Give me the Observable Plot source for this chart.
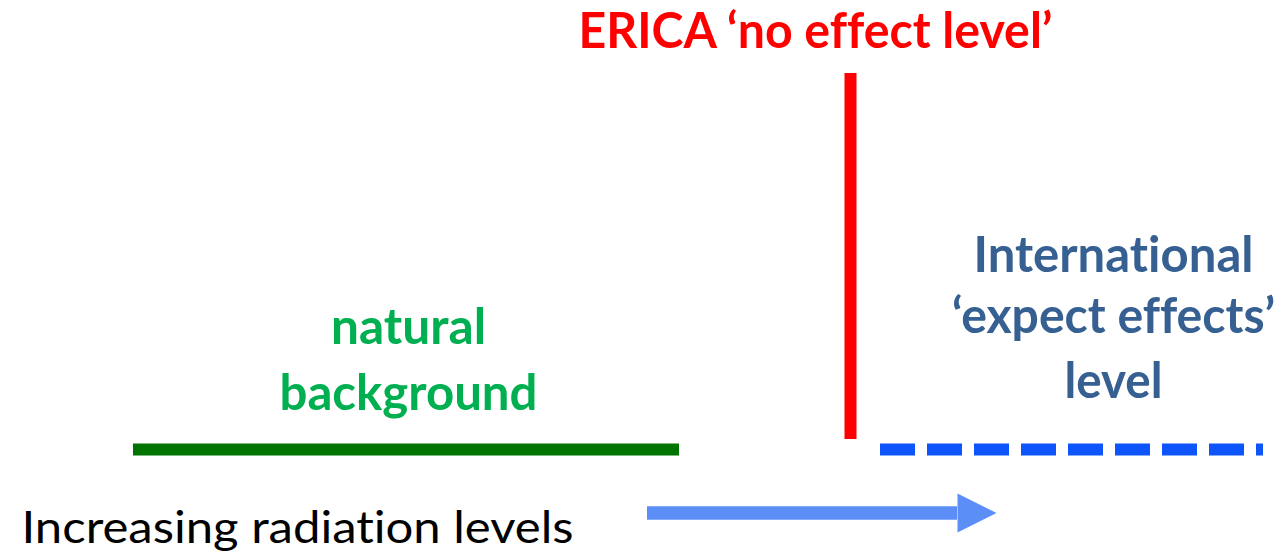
<!DOCTYPE html>
<html><head><meta charset="utf-8">
<script src="https://cdn.jsdelivr.net/npm/d3@7"></script>
<script src="https://cdn.jsdelivr.net/npm/@observablehq/plot@0.6"></script>
<style>html,body{margin:0;padding:0;background:#fff;overflow:hidden} svg text{font-variant-ligatures:none;font-feature-settings:"liga" 0}</style>
</head><body><div id="chart"></div>
<script>
// ---- data (x: relative radiation level, y: vertical position in the diagram) ----
const naturalBackground = [{x1: 133, x2: 679, y: 449}];
const ericaNoEffect = [{x: 850, y1: 73, y2: 439}];
const expectEffects = [{x1: 880, x2: 1263, y: 449}];
const increasingArrow = [{x1: 647, x2: 996, y: 512.5}];
const ericaLabel = [{text: "ERICA ‘no effect level’", x: 815, y: 47}];
const naturalLabel = [{text: "natural", x: 408, y: 343}, {text: "background", x: 408, y: 409}];
const expectLabel = [{text: "International", x: 1113, y: 271}, {text: "‘expect effects’", x: 1113, y: 332}, {text: "level", x: 1113, y: 397}];
const axisLabel = [{text: "Increasing radiation levels", x: 21, y: 542}];

// ---- styles ----
const W = 1288, H = 553;
const headLen = 39, headHalf = 19.5;
const textWidths = {
  "ERICA ‘no effect level’": 474, "natural": 155, "background": 258,
  "International": 280, "‘expect effects’": 323, "level": 98,
  "Increasing radiation levels": 552
};

const arrowShaft = increasingArrow.map(d => ({x1: d.x1, x2: d.x2 - headLen, y: d.y}));
const arrowHead = increasingArrow.flatMap(d => [
  {x: d.x2 - headLen, y: d.y - headHalf},
  {x: d.x2, y: d.y},
  {x: d.x2 - headLen, y: d.y + headHalf}
]);

const svg = Plot.plot({
  width: W, height: H,
  margin: 0,
  style: {background: "#fff", overflow: "visible"},
  x: {domain: [0, W], axis: null},
  y: {domain: [0, H], reverse: true, axis: null},
  marks: [
    Plot.ruleY(naturalBackground, {x1: "x1", x2: "x2", y: "y", stroke: "#007400", strokeWidth: 12}),
    Plot.ruleX(ericaNoEffect, {x: "x", y1: "y1", y2: "y2", stroke: "#ff0000", strokeWidth: 12}),
    Plot.ruleY(expectEffects, {x1: "x1", x2: "x2", y: "y", stroke: "#0d55fb", strokeWidth: 12, strokeDasharray: "35 12"}),
    Plot.ruleY(arrowShaft, {x1: "x1", x2: "x2", y: "y", stroke: "#5b8ef7", strokeWidth: 13.6}),
    Plot.line(arrowHead, {x: "x", y: "y", fill: "#5b8ef7", stroke: "none", curve: "linear-closed"}),
    Plot.text(ericaLabel, {x: "x", y: "y", text: "text", lineAnchor: "bottom", textAnchor: "middle", fill: "#ff0000", fontFamily: "Lato", fontWeight: "bold", fontSize: 49}),
    Plot.text(naturalLabel, {x: "x", y: "y", text: "text", lineAnchor: "bottom", textAnchor: "middle", fill: "#00b050", fontFamily: "Lato", fontWeight: "bold", fontSize: 49}),
    Plot.text(expectLabel, {x: "x", y: "y", text: "text", lineAnchor: "bottom", textAnchor: "middle", fill: "#376092", fontFamily: "Lato", fontWeight: "bold", fontSize: 49}),
    Plot.text(axisLabel, {x: "x", y: "y", text: "text", lineAnchor: "bottom", textAnchor: "start", fill: "#000", fontFamily: "Lato", fontWeight: "normal", fontSize: 45})
  ]
});
document.getElementById("chart").appendChild(svg);
d3.select(svg).selectAll("text").each(function () {
  const w = textWidths[this.textContent];
  if (w) { this.setAttribute("textLength", w); this.setAttribute("lengthAdjust", "spacingAndGlyphs"); }
});
</script></body></html>
